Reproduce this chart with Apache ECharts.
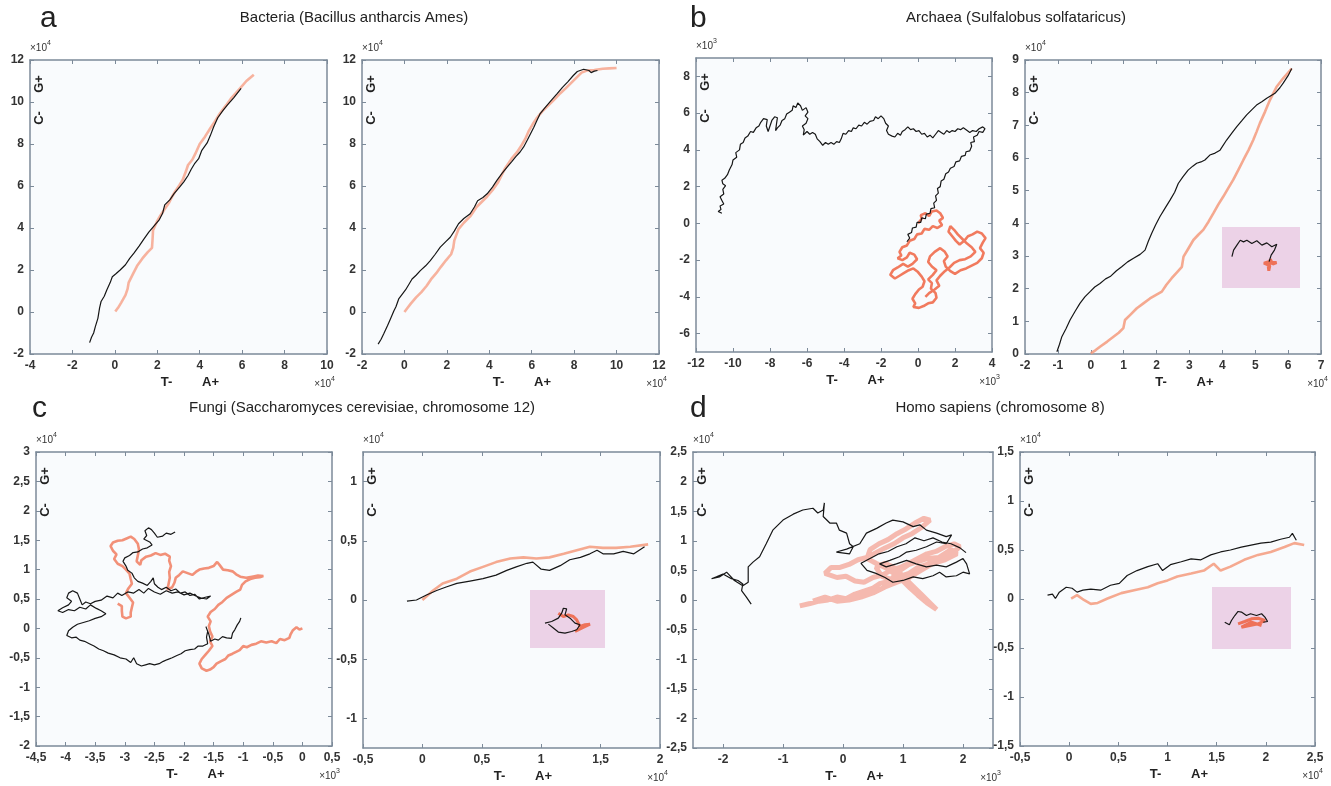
<!DOCTYPE html>
<html>
<head>
<meta charset="utf-8">
<title>DNA walks</title>
<script src="https://cdn.jsdelivr.net/npm/echarts@6/dist/echarts.min.js"></script>
<style>
html, body { margin: 0; padding: 0; background: #fff; }
#chart { width: 1331px; height: 786px; }
</style>
</head>
<body>
<div id="chart"></div>
<script>
// walks in axis units (x10^3 or x10^4 as printed)
const aLeftBlack = [[-1.19,-1.46],[-1.1,-1.2],[-1.0,-1.0],[-0.92,-0.7],[-0.8,-0.3],[-0.72,0.2],[-0.65,0.5],[-0.5,0.75],[-0.38,1.05],[-0.22,1.4],[-0.12,1.68],[0.05,1.82],[0.25,2.0],[0.5,2.25],[0.7,2.55],[0.9,2.8],[1.15,3.15],[1.35,3.45],[1.6,3.8],[1.85,4.1],[2.1,4.4],[2.25,4.7],[2.35,5.1],[2.6,5.35],[2.8,5.65],[3.05,5.95],[3.25,6.2],[3.45,6.5],[3.6,6.8],[3.75,7.05],[3.95,7.3],[4.1,7.7],[4.35,8.05],[4.5,8.4],[4.65,8.8],[4.85,9.25],[5.1,9.6],[5.3,9.85],[5.6,10.2],[5.95,10.65]]
const aLeftRed = [[0.02,0.02],[0.15,0.2],[0.3,0.45],[0.5,0.8],[0.6,1.1],[0.65,1.4],[0.85,1.8],[1.05,2.2],[1.3,2.55],[1.55,2.85],[1.75,3.05],[1.78,3.5],[1.8,3.9],[1.98,4.3],[2.15,4.6],[2.35,4.9],[2.55,5.2],[2.7,5.5],[2.85,5.75],[3.05,6.05],[3.2,6.3],[3.35,6.7],[3.45,7.0],[3.65,7.25],[3.8,7.55],[4.0,8.0],[4.25,8.35],[4.5,8.75],[4.7,9.05],[4.95,9.45],[5.25,9.85],[5.5,10.2],[5.9,10.65],[6.2,11.0],[6.55,11.3]]

const aRightBlack = [[-1.24,-1.53],[-1.1,-1.3],[-0.98,-1.05],[-0.8,-0.65],[-0.66,-0.33],[-0.5,0.05],[-0.4,0.25],[-0.27,0.62],[-0.1,0.85],[0.05,1.05],[0.2,1.3],[0.36,1.57],[0.55,1.75],[0.75,1.97],[1.0,2.2],[1.22,2.45],[1.45,2.75],[1.69,3.09],[1.95,3.35],[2.16,3.56],[2.35,3.85],[2.55,4.2],[2.8,4.45],[3.1,4.68],[3.3,5.0],[3.45,5.3],[3.7,5.45],[3.9,5.63],[4.15,5.95],[4.36,6.27],[4.6,6.6],[4.84,6.9],[5.05,7.15],[5.25,7.4],[5.45,7.62],[5.62,7.86],[5.8,8.2],[5.95,8.5],[6.1,8.8],[6.25,9.13],[6.4,9.45],[6.6,9.7],[6.9,10.05],[7.2,10.4],[7.45,10.7],[7.7,10.96],[7.95,11.25],[8.15,11.45],[8.45,11.56],[8.7,11.5],[8.8,11.4],[8.95,11.47],[9.1,11.5]]
const aRightRed = [[0,0],[0.15,0.2],[0.3,0.4],[0.55,0.7],[0.8,0.95],[1.05,1.25],[1.25,1.55],[1.5,1.85],[1.72,2.15],[1.95,2.45],[2.2,2.75],[2.3,3.05],[2.35,3.4],[2.55,3.95],[2.8,4.25],[3.1,4.55],[3.4,5.0],[3.65,5.25],[3.9,5.5],[4.15,5.8],[4.4,6.15],[4.6,6.55],[4.75,6.85],[5.05,7.3],[5.3,7.6],[5.5,7.9],[5.7,8.25],[5.85,8.6],[6.05,8.95],[6.25,9.25],[6.5,9.55],[6.75,9.8],[7.05,10.1],[7.35,10.42],[7.6,10.65],[7.85,10.9],[8.1,11.15],[8.35,11.4],[8.6,11.5],[8.95,11.52],[9.35,11.58],[9.65,11.6],[10.0,11.62]]

const bLeftBlack = [[-0.6,-1.0],[-0.45,-0.8],[-0.55,-0.6],[-0.35,-0.5],[-0.3,-0.25],[-0.1,-0.2],[-0.05,0.05],[0.15,0.05],[0.2,0.3],[0.4,0.25],[0.45,0.5],[0.65,0.55],[0.7,0.8],[0.9,0.85],[0.85,1.1],[1.0,1.25],[0.95,1.5],[1.1,1.65],[1.05,1.9],[1.2,2.0],[1.25,2.3],[1.4,2.4],[1.5,2.7],[1.65,2.8],[1.75,3.0],[1.95,3.1],[2.05,3.35],[2.25,3.4],[2.35,3.65],[2.55,3.7],[2.6,3.9],[2.8,3.95],[2.9,4.2],[2.85,4.4],[3.05,4.45],[3.0,4.7],[3.2,4.8],[3.3,5.0],[3.5,4.95],[3.62,5.15],[3.5,5.25],[3.3,5.15],[3.15,5.0],[2.95,5.05],[2.8,4.95],[2.6,5.1],[2.45,5.2],[2.3,5.1],[2.15,5.15],[2.0,5.0],[1.85,5.05],[1.7,4.95],[1.55,5.05],[1.4,4.85],[1.25,4.95],[1.1,5.05],[0.95,4.85],[0.8,4.65],[0.65,4.8],[0.5,4.7],[0.35,4.9],[0.2,4.85],[0.05,5.05],[-0.1,5.0],[-0.25,5.15],[-0.4,5.1],[-0.55,5.25],[-0.7,5.1],[-0.85,5.0],[-0.95,4.8],[-1.1,4.9],[-1.25,4.7],[-1.4,4.75],[-1.6,4.85],[-1.7,5.05],[-1.6,5.3],[-1.75,5.45],[-1.85,5.7],[-2.0,5.85],[-2.15,5.7],[-2.3,5.8],[-2.4,5.6],[-2.6,5.55],[-2.75,5.4],[-2.9,5.5],[-3.05,5.3],[-3.2,5.35],[-3.35,5.15],[-3.5,5.2],[-3.6,5.0],[-3.75,5.05],[-3.9,4.85],[-4.05,4.9],[-4.15,4.6],[-4.25,4.4],[-4.4,4.45],[-4.55,4.3],[-4.7,4.4],[-4.85,4.3],[-5.0,4.4],[-5.15,4.25],[-5.3,4.45],[-5.45,4.6],[-5.55,4.85],[-5.7,4.95],[-5.85,4.85],[-6.0,5.0],[-6.2,4.8],[-6.15,5.1],[-6.25,5.3],[-6.05,5.45],[-5.95,5.7],[-6.1,5.85],[-5.95,6.05],[-6.05,6.3],[-6.25,6.15],[-6.35,6.4],[-6.5,6.55],[-6.6,6.3],[-6.75,6.4],[-6.8,6.15],[-6.95,6.05],[-7.1,5.95],[-7.2,5.7],[-7.35,5.6],[-7.45,5.35],[-7.6,5.2],[-7.7,5.05],[-7.65,5.4],[-7.6,5.75],[-7.75,5.8],[-7.9,5.6],[-8.0,5.3],[-8.1,5.0],[-8.2,5.3],[-8.15,5.65],[-8.35,5.7],[-8.5,5.5],[-8.6,5.3],[-8.75,5.2],[-8.9,4.95],[-9.05,5.0],[-9.2,4.75],[-9.35,4.65],[-9.45,4.4],[-9.6,4.3],[-9.65,4.0],[-9.85,3.85],[-9.8,3.6],[-10.0,3.45],[-10.05,3.2],[-10.2,2.9],[-10.3,2.65],[-10.45,2.45],[-10.6,2.35],[-10.55,2.15],[-10.4,2.05],[-10.55,1.85],[-10.5,1.6],[-10.7,1.45],[-10.6,1.25],[-10.5,1.05],[-10.7,0.95],[-10.65,0.75],[-10.8,0.65],[-10.6,0.55]]
const bLeftRed = [[0.0,0.0],[0.2,0.25],[0.15,0.45],[0.4,0.55],[0.6,0.4],[0.75,0.65],[1.0,0.7],[1.2,0.55],[1.35,0.3],[1.15,0.15],[1.3,-0.1],[1.05,-0.25],[0.8,-0.15],[0.6,-0.35],[0.35,-0.3],[0.2,-0.55],[-0.05,-0.6],[-0.2,-0.85],[-0.45,-0.95],[-0.6,-1.2],[-0.85,-1.3],[-1.0,-1.55],[-0.9,-1.75],[-1.1,-1.9],[-0.85,-2.0],[-0.6,-1.85],[-0.45,-1.6],[-0.2,-1.7],[-0.05,-1.95],[-0.3,-2.2],[-0.55,-2.35],[-0.8,-2.2],[-1.1,-2.4],[-1.35,-2.55],[-1.5,-2.8],[-1.25,-3.0],[-1.0,-2.85],[-0.75,-2.7],[-0.5,-2.55],[-0.25,-2.45],[0.0,-2.65],[0.2,-2.9],[0.35,-3.15],[0.25,-3.45],[0.05,-3.6],[-0.15,-3.85],[-0.3,-4.1],[-0.15,-4.35],[-0.25,-4.55],[0.05,-4.6],[0.3,-4.5],[0.55,-4.35],[0.8,-4.3],[1.0,-4.05],[0.95,-3.8],[0.7,-3.55],[0.75,-3.25],[0.55,-3.05],[0.8,-2.8],[1.0,-2.55],[0.75,-2.35],[0.55,-2.1],[0.65,-1.8],[0.9,-1.55],[1.2,-1.35],[1.45,-1.55],[1.6,-1.8],[1.4,-2.05],[1.5,-2.35],[1.75,-2.6],[2.0,-2.75],[2.3,-2.55],[2.6,-2.45],[2.9,-2.3],[3.2,-2.15],[3.45,-1.9],[3.55,-1.6],[3.35,-1.35],[3.5,-1.05],[3.65,-0.8],[3.45,-0.55],[3.2,-0.45],[2.95,-0.6],[2.7,-0.7],[2.5,-0.95],[2.25,-1.15],[2.05,-0.95],[1.85,-0.7],[1.65,-0.45],[1.75,-0.15],[1.95,-0.35],[2.15,-0.6],[2.4,-0.85],[2.65,-1.1],[2.9,-1.3],[3.1,-1.55],[2.85,-1.8],[2.55,-1.95],[2.25,-2.0],[1.95,-2.15],[1.7,-2.4],[1.45,-2.6],[1.2,-2.85],[1.0,-3.1],[1.15,-3.4],[0.9,-3.6],[0.6,-3.8],[0.4,-4.0]]

const bRightBlack = [[-1.03,0.07],[-0.95,0.3],[-0.88,0.53],[-0.75,0.78],[-0.63,1.04],[-0.48,1.3],[-0.33,1.55],[-0.18,1.75],[-0.02,1.91],[0.12,2.05],[0.28,2.16],[0.45,2.3],[0.59,2.37],[0.78,2.55],[0.94,2.67],[1.12,2.82],[1.3,2.93],[1.5,3.05],[1.65,3.18],[1.75,3.45],[1.85,3.69],[1.97,3.95],[2.1,4.2],[2.25,4.45],[2.41,4.71],[2.55,4.95],[2.66,5.22],[2.8,5.42],[2.96,5.63],[3.1,5.75],[3.22,5.84],[3.35,5.88],[3.47,5.94],[3.62,6.09],[3.78,6.15],[3.93,6.24],[4.13,6.55],[4.3,6.78],[4.44,6.96],[4.6,7.15],[4.74,7.32],[4.9,7.48],[5.04,7.62],[5.2,7.72],[5.35,7.83],[5.6,7.98],[5.75,8.15],[5.85,8.29],[6.0,8.52],[6.11,8.74]]
const bRightRed = [[0,0.02],[0.15,0.12],[0.28,0.22],[0.5,0.38],[0.69,0.53],[0.85,0.65],[0.99,0.79],[1.04,1.04],[1.2,1.2],[1.4,1.4],[1.6,1.55],[1.8,1.7],[2.0,1.82],[2.16,1.91],[2.3,2.12],[2.46,2.32],[2.62,2.5],[2.77,2.67],[2.82,2.98],[2.95,3.2],[3.12,3.49],[3.27,3.65],[3.42,3.8],[3.58,4.05],[3.73,4.31],[3.88,4.58],[4.03,4.82],[4.18,5.08],[4.33,5.33],[4.48,5.62],[4.64,5.94],[4.8,6.25],[4.94,6.55],[5.04,6.8],[5.14,7.06],[5.3,7.42],[5.45,7.78],[5.55,7.98],[5.65,8.18],[5.85,8.44],[6.11,8.74]]
const bInsetBlack = [[1.02,3.08],[1.19,3.73],[1.53,4.22],[1.87,4.7],[2.21,4.54],[2.55,4.7],[3.06,4.38],[3.57,4.64],[4.09,4.22],[4.6,4.44],[5.11,4.05],[5.62,4.31],[5.38,3.73],[5.04,3.24],[4.83,2.59]]
const bInsetRed = [[4.83,2.6],[4.75,2.1],[4.8,1.7],[4.9,2.2],[4.3,2.45],[4.7,2.55],[5.1,2.5],[5.6,2.5],[5.2,2.35],[4.95,2.85],[4.9,2.3]]

const cLeftBlack = [[-2.15,1.64],[-2.22,1.6],[-2.3,1.62],[-2.36,1.57],[-2.45,1.55],[-2.5,1.62],[-2.55,1.68],[-2.6,1.71],[-2.66,1.66],[-2.63,1.58],[-2.68,1.52],[-2.58,1.47],[-2.54,1.42],[-2.62,1.37],[-2.7,1.35],[-2.78,1.3],[-2.86,1.29],[-2.92,1.24],[-3.0,1.2],[-3.03,1.14],[-2.98,1.06],[-2.95,0.99],[-2.88,0.94],[-2.84,0.86],[-2.78,0.8],[-2.7,0.77],[-2.62,0.73],[-2.56,0.8],[-2.52,0.86],[-2.5,0.76],[-2.44,0.7],[-2.38,0.66],[-2.3,0.7],[-2.22,0.64],[-2.14,0.67],[-2.06,0.6],[-1.98,0.62],[-1.9,0.56],[-1.82,0.58],[-1.74,0.5],[-1.64,0.53],[-1.55,0.55],[-1.62,0.5],[-1.72,0.52],[-1.8,0.55],[-1.9,0.6],[-2.0,0.57],[-2.1,0.62],[-2.2,0.6],[-2.3,0.64],[-2.4,0.58],[-2.5,0.62],[-2.6,0.68],[-2.68,0.6],[-2.76,0.66],[-2.85,0.6],[-2.95,0.62],[-3.05,0.56],[-3.12,0.6],[-3.2,0.52],[-3.3,0.55],[-3.4,0.48],[-3.5,0.46],[-3.58,0.42],[-3.66,0.45],[-3.72,0.4],[-3.76,0.5],[-3.8,0.6],[-3.88,0.64],[-3.95,0.6],[-3.98,0.52],[-3.9,0.46],[-3.95,0.4],[-4.05,0.35],[-4.13,0.3],[-4.05,0.27],[-3.95,0.32],[-3.85,0.3],[-3.76,0.36],[-3.66,0.33],[-3.58,0.4],[-3.48,0.34],[-3.4,0.3],[-3.32,0.25],[-3.4,0.2],[-3.5,0.17],[-3.6,0.13],[-3.7,0.1],[-3.8,0.07],[-3.88,0.02],[-3.95,-0.04],[-3.98,-0.12],[-3.9,-0.16],[-3.82,-0.15],[-3.76,-0.2],[-3.68,-0.22],[-3.6,-0.26],[-3.52,-0.3],[-3.44,-0.35],[-3.36,-0.38],[-3.28,-0.42],[-3.18,-0.45],[-3.08,-0.5],[-2.98,-0.52],[-2.9,-0.58],[-2.85,-0.5],[-2.8,-0.6],[-2.72,-0.64],[-2.65,-0.62],[-2.58,-0.6],[-2.5,-0.62],[-2.42,-0.6],[-2.35,-0.56],[-2.28,-0.53],[-2.2,-0.5],[-2.12,-0.46],[-2.05,-0.43],[-1.98,-0.38],[-1.9,-0.36],[-1.82,-0.35],[-1.76,-0.3],[-1.68,-0.3],[-1.6,-0.26],[-1.62,-0.15],[-1.6,-0.05],[-1.63,0.03],[-1.58,-0.1],[-1.55,-0.22],[-1.48,-0.18],[-1.42,-0.2],[-1.35,-0.14],[-1.28,-0.16],[-1.2,-0.17],[-1.18,-0.08],[-1.14,-0.02],[-1.1,0.06],[-1.06,0.12],[-1.04,0.18]]
const cLeftRed = [[0,0],[-0.05,-0.02],[-0.1,0.02],[-0.16,-0.03],[-0.2,-0.1],[-0.22,-0.16],[-0.3,-0.2],[-0.38,-0.18],[-0.44,-0.25],[-0.52,-0.22],[-0.61,-0.24],[-0.7,-0.22],[-0.78,-0.26],[-0.86,-0.28],[-0.94,-0.32],[-1.0,-0.3],[-1.06,-0.37],[-1.12,-0.4],[-1.18,-0.43],[-1.25,-0.46],[-1.3,-0.52],[-1.38,-0.56],[-1.45,-0.6],[-1.5,-0.66],[-1.56,-0.7],[-1.62,-0.72],[-1.7,-0.68],[-1.74,-0.6],[-1.7,-0.52],[-1.64,-0.45],[-1.58,-0.38],[-1.52,-0.3],[-1.56,-0.22],[-1.52,-0.14],[-1.56,-0.05],[-1.58,0.04],[-1.55,0.12],[-1.6,0.2],[-1.55,0.28],[-1.48,0.33],[-1.42,0.4],[-1.35,0.45],[-1.28,0.52],[-1.2,0.57],[-1.12,0.62],[-1.05,0.66],[-1.02,0.74],[-0.96,0.8],[-0.88,0.84],[-0.8,0.86],[-0.72,0.87],[-0.66,0.89],[-0.75,0.9],[-0.85,0.88],[-0.95,0.86],[-1.05,0.88],[-1.12,0.92],[-1.18,0.97],[-1.26,0.99],[-1.34,1.0],[-1.4,1.08],[-1.44,1.13],[-1.5,1.06],[-1.58,1.03],[-1.66,1.02],[-1.74,1.0],[-1.8,0.96],[-1.86,0.91],[-1.94,0.94],[-2.02,0.97],[-2.08,0.91],[-2.14,0.86],[-2.16,0.78],[-2.2,0.7],[-2.28,0.66],[-2.26,0.76],[-2.24,0.86],[-2.25,0.96],[-2.22,1.06],[-2.25,1.15],[-2.24,1.22],[-2.32,1.27],[-2.4,1.25],[-2.48,1.28],[-2.56,1.24],[-2.64,1.22],[-2.72,1.16],[-2.74,1.08],[-2.8,1.14],[-2.78,1.24],[-2.76,1.34],[-2.78,1.44],[-2.84,1.52],[-2.9,1.56],[-2.97,1.53],[-3.04,1.5],[-3.12,1.49],[-3.2,1.46],[-3.24,1.4],[-3.2,1.32],[-3.14,1.26],[-3.18,1.18],[-3.12,1.1],[-3.04,1.06],[-2.98,1.0],[-2.92,0.93],[-2.9,0.84],[-2.88,0.76],[-2.94,0.68],[-2.98,0.6],[-2.92,0.52],[-2.86,0.44],[-2.88,0.36],[-2.9,0.27],[-2.9,0.2],[-2.98,0.17],[-3.04,0.2],[-3.05,0.3],[-3.05,0.38],[-3.12,0.42]]

const cRightBlack = [[-0.13,-0.01],[-0.05,0],[0.03,0.04],[0.12,0.08],[0.2,0.11],[0.29,0.14],[0.4,0.16],[0.51,0.18],[0.62,0.21],[0.71,0.25],[0.79,0.28],[0.88,0.31],[0.93,0.32],[1.0,0.26],[1.07,0.25],[1.16,0.29],[1.24,0.34],[1.33,0.36],[1.41,0.39],[1.47,0.42],[1.52,0.39],[1.61,0.39],[1.69,0.41],[1.78,0.39],[1.87,0.45]]
const cRightRed = [[0,0],[0.09,0.08],[0.17,0.14],[0.29,0.18],[0.4,0.24],[0.51,0.28],[0.62,0.32],[0.74,0.35],[0.85,0.36],[0.96,0.35],[1.07,0.36],[1.19,0.39],[1.3,0.42],[1.41,0.45],[1.52,0.44],[1.63,0.44],[1.75,0.45],[1.9,0.47]]
const cInsetBlack = [[1.6,2.57],[2.31,2.74],[3.02,3.09],[3.38,3.6],[3.56,4.11],[3.91,4.05],[3.73,3.43],[4.27,3.09],[4.8,2.57],[5.33,2.4],[4.98,1.89],[4.44,1.71],[3.73,1.54],[3.02,1.65],[2.49,2.06],[1.96,2.47]]
const cInsetRed = [[3.02,3.6],[3.56,3.26],[4.09,3.43],[4.62,3.26],[4.98,2.91],[5.33,2.23],[5.87,2.4],[6.4,2.47],[5.51,2.06],[4.8,1.71]]

const dLeftBlack = [[-1.53,-0.07],[-1.61,0.05],[-1.69,0.16],[-1.67,0.27],[-1.75,0.33],[-1.86,0.36],[-2.0,0.44],[-2.11,0.39],[-2.19,0.36],[-2.06,0.39],[-1.94,0.47],[-1.81,0.33],[-1.67,0.24],[-1.58,0.3],[-1.58,0.56],[-1.5,0.64],[-1.39,0.73],[-1.28,0.95],[-1.17,1.18],[-1.0,1.35],[-0.83,1.45],[-0.67,1.52],[-0.5,1.55],[-0.42,1.47],[-0.33,1.52],[-0.31,1.64],[-0.33,1.41],[-0.22,1.3],[-0.11,1.3],[-0.06,1.18],[0.06,1.13],[0.11,0.95],[0.17,0.9],[0.11,0.78],[-0.11,0.81],[0.06,0.86],[0.28,0.95],[0.39,1.13],[0.56,1.21],[0.72,1.3],[0.83,1.35],[1.0,1.32],[1.17,1.24],[1.28,1.27],[1.39,1.18],[1.56,1.13],[1.72,1.07],[1.81,1.1],[1.72,0.95],[1.56,0.98],[1.39,0.9],[1.22,0.84],[1.06,0.81],[0.94,0.73],[0.78,0.67],[0.61,0.61],[0.72,0.56],[0.89,0.61],[1.06,0.67],[1.22,0.61],[1.39,0.56],[1.56,0.59],[1.72,0.56],[1.89,0.64],[2.0,0.7],[2.06,0.61],[2.11,0.44],[2.0,0.47],[1.89,0.41],[1.72,0.39],[1.61,0.47],[1.5,0.41],[1.33,0.36],[1.17,0.39],[1.0,0.33],[0.83,0.3],[0.7,0.38],[0.55,0.45],[0.4,0.5],[0.3,0.62],[0.45,0.7],[0.6,0.78],[0.75,0.82],[0.9,0.9],[1.05,0.95],[1.2,1.05],[1.35,1.0],[1.5,1.05],[1.65,0.98],[1.8,0.95],[1.95,0.88],[2.05,0.8]]
const dLeftRed = [[-0.72,-0.1],[-0.55,-0.06],[-0.4,-0.02],[-0.25,0.0],[-0.1,0.05],[0.05,0.02],[0.2,0.1],[0.35,0.15],[0.5,0.2],[0.62,0.28],[0.8,0.32],[0.95,0.4],[1.1,0.45],[1.25,0.55],[1.4,0.6],[1.55,0.7],[1.7,0.75],[1.85,0.82],[1.95,0.9],[1.85,0.95],[1.7,0.9],[1.55,0.82],[1.4,0.78],[1.25,0.7],[1.1,0.62],[0.95,0.55],[0.8,0.5],[0.65,0.42],[0.5,0.38],[0.35,0.3],[0.2,0.32],[0.05,0.4],[-0.1,0.38],[-0.3,0.45],[-0.2,0.55],[-0.05,0.55],[0.1,0.6],[0.25,0.68],[0.4,0.72],[0.55,0.8],[0.7,0.88],[0.85,0.95],[1.0,1.05],[1.15,1.12],[1.3,1.22],[1.45,1.35],[1.35,1.38],[1.2,1.3],[1.05,1.2],[0.9,1.12],[0.75,1.02],[0.6,0.95],[0.45,0.85],[0.4,0.7],[0.55,0.62],[0.7,0.55],[0.85,0.45],[1.0,0.32],[1.12,0.2],[1.25,0.08],[1.4,-0.05],[1.56,-0.16],[1.45,-0.05],[1.3,0.1],[1.15,0.25],[1.0,0.4],[0.85,0.55],[0.7,0.62],[0.55,0.55],[0.65,0.4],[0.8,0.35],[0.95,0.5],[1.1,0.6],[1.25,0.65],[1.4,0.7],[1.6,0.72],[1.8,0.85],[1.9,0.78],[1.7,0.68],[1.5,0.62],[1.3,0.5],[1.1,0.38],[0.9,0.3],[0.7,0.22],[0.5,0.12],[0.3,0.05],[0.1,0.0],[-0.1,-0.02],[-0.3,0.05],[-0.5,-0.02]]

const dRightBlack = [[-0.22,0.04],[-0.17,0.05],[-0.14,0.005],[-0.1,0.07],[-0.03,0.12],[0.03,0.11],[0.08,0.07],[0.14,0.09],[0.22,0.1],[0.32,0.09],[0.42,0.14],[0.51,0.16],[0.59,0.24],[0.69,0.29],[0.8,0.33],[0.9,0.36],[0.95,0.29],[1.03,0.35],[1.14,0.38],[1.24,0.41],[1.34,0.4],[1.44,0.45],[1.54,0.48],[1.64,0.5],[1.75,0.53],[1.85,0.55],[1.95,0.57],[2.05,0.58],[2.15,0.61],[2.24,0.63],[2.27,0.67],[2.31,0.6]]
const dRightRed = [[0.02,0.005],[0.08,0.04],[0.15,-0.01],[0.22,-0.05],[0.29,-0.04],[0.39,0.005],[0.53,0.06],[0.66,0.09],[0.8,0.12],[0.9,0.16],[1.0,0.19],[1.1,0.23],[1.24,0.26],[1.37,0.29],[1.47,0.36],[1.54,0.29],[1.64,0.33],[1.78,0.4],[1.92,0.45],[2.05,0.48],[2.19,0.53],[2.29,0.57],[2.39,0.55]]
const dInsetBlack = [[1.29,2.59],[1.76,2.34],[1.97,2.76],[2.31,3.24],[2.64,3.63],[2.98,3.57],[3.49,3.24],[3.9,3.41],[4.51,3.24],[5.02,3.41],[5.36,3.08],[5.63,2.66],[5.19,2.59]]
const dInsetRed = [[2.64,2.43],[3.32,2.66],[4.0,2.92],[4.68,2.98],[5.36,2.76],[4.68,2.43],[3.83,2.27],[2.98,2.11],[4.0,2.6],[5.02,2.27]]

// axis ranges: [min, max, step]
const panels = [
  { box: [30, 60, 297, 294], x: [-4, 10, 2], y: [-2, 12, 2], ex: '4', ey: '4', black: aLeftBlack, red: aLeftRed, redColor: '#f6a086', redOp: 0.8, redW: 2.6 },
  { box: [362, 60, 297, 294], x: [-2, 12, 2], y: [-2, 12, 2], ex: '4', ey: '4', black: aRightBlack, red: aRightRed, redColor: '#f6a086', redOp: 0.8, redW: 2.6 },
  { box: [696, 58, 296, 294], x: [-12, 4, 2], y: [-7, 9], yTicks: [-6, -4, -2, 0, 2, 4, 6, 8], ex: '3', ey: '3', black: bLeftBlack, red: bLeftRed, redColor: '#ef5a36', redOp: 0.8, redW: 2.6 },
  { box: [1025, 60, 296, 294], x: [-2, 7, 1], y: [0, 9, 1], ex: '4', ey: '4', black: bRightBlack, red: bRightRed, redColor: '#f49a7c', redOp: 0.85, redW: 2.6 },
  { box: [36, 452, 296, 294], x: [-4.5, 0.5, 0.5], y: [-2, 3, 0.5], ex: '3', ey: '4', black: cLeftBlack, red: cLeftRed, redColor: '#f0623e', redOp: 0.7, redW: 2.6 },
  { box: [363, 452, 297, 296], x: [-0.5, 2, 0.5], y: [-1.25, 1.25], yTicks: [-1, -0.5, 0, 0.5, 1], ex: '4', ey: '4', black: cRightBlack, red: cRightRed, redColor: '#f49a7c', redOp: 0.85, redW: 2.6 },
  { box: [693, 452, 300, 296], x: [-2.5, 2.5], xTicks: [-2, -1, 0, 1, 2], y: [-2.5, 2.5, 0.5], ex: '3', ey: '4', black: dLeftBlack, red: dLeftRed, redColor: '#ef5030', redOp: 0.38, redW: 5 },
  { box: [1020, 452, 295, 294], x: [-0.5, 2.5, 0.5], y: [-1.5, 1.5, 0.5], ex: '4', ey: '4', black: dRightBlack, red: dRightRed, redColor: '#f49a7c', redOp: 0.85, redW: 2.6 },
]

const insets = [
  { box: [1222, 227, 78, 61], black: bInsetBlack, red: bInsetRed },
  { box: [530, 590, 75, 58], black: cInsetBlack, red: cInsetRed },
  { box: [1212, 587, 79, 62], black: dInsetBlack, red: dInsetRed },
]

const titles = [
  { letter: 'a', lx: 40, ly: 4, text: 'Bacteria (Bacillus antharcis Ames)', tx: 354, ty: 10 },
  { letter: 'b', lx: 690, ly: 4, text: 'Archaea (Sulfalobus solfataricus)', tx: 1016, ty: 10 },
  { letter: 'c', lx: 32, ly: 394, text: 'Fungi (Saccharomyces cerevisiae, chromosome 12)', tx: 362, ty: 400 },
  { letter: 'd', lx: 690, ly: 394, text: 'Homo sapiens (chromosome 8)', tx: 1000, ty: 400 },
]

const frameColor = '#7c8a99'
const fontFamily = 'Liberation Sans, Arial, sans-serif'

function fmt(v) {
  return String(+(+v).toFixed(2)).replace('.', ',')
}

function makeAxis(range, ticks, pos, gridIndex, showLabel) {
  const ax = {
    type: 'value',
    gridIndex,
    position: pos,
    min: range[0],
    max: range[1],
    splitLine: { show: false },
    axisLine: { show: true, onZero: false, lineStyle: { color: frameColor, width: 1.5 } },
    axisTick: { show: true, inside: true, length: 4, lineStyle: { color: frameColor, width: 1 } },
    axisLabel: {
      show: showLabel,
      formatter: fmt,
      color: '#333',
      fontSize: 12,
      fontWeight: 'bold',
      fontFamily,
      margin: 6,
      showMinLabel: true,
      showMaxLabel: true,
    },
  }
  if (ticks) {
    ax.axisTick.customValues = ticks
    ax.axisLabel.customValues = ticks
  } else {
    ax.interval = range[2]
  }
  return ax
}

const grid = []
const xAxis = []
const yAxis = []
const series = []
const graphic = []

const sup = (e, align) => ({
  text: '{a|×10}{b|' + e + '}',
  align: align,
  rich: {
    a: { fontSize: 10, fontFamily, fill: '#333', verticalAlign: 'bottom' },
    b: { fontSize: 7, fontFamily, fill: '#333', verticalAlign: 'top', padding: [0, 0, 6, 0] },
  },
})

panels.forEach((p, i) => {
  const [l, t, w, h] = p.box
  grid.push({ left: l, top: t, width: w, height: h, show: true, backgroundColor: '#f9fbfd', borderWidth: 0 })
  xAxis.push(makeAxis(p.x, p.xTicks, 'bottom', i, true))
  xAxis.push(makeAxis(p.x, p.xTicks, 'top', i, false))
  yAxis.push(makeAxis(p.y, p.yTicks, 'left', i, true))
  yAxis.push(makeAxis(p.y, p.yTicks, 'right', i, false))

  series.push({
    type: 'line', xAxisIndex: i * 2, yAxisIndex: i * 2, data: p.red, symbol: 'none',
    lineStyle: { color: p.redColor, width: p.redW, opacity: p.redOp }, z: 2,
  })
  series.push({
    type: 'line', xAxisIndex: i * 2, yAxisIndex: i * 2, data: p.black, symbol: 'none',
    lineStyle: { color: '#161616', width: 1.2 }, z: 3,
  })

  // exponent labels, T- A+ and the rotated G+ C- markers
  graphic.push({ type: 'text', x: l, y: t - 20, style: sup(p.ey, 'left') })
  graphic.push({ type: 'text', x: Math.min(l + w + 8, 1328), y: t + h + 22, style: sup(p.ex, 'right') })
  const cx = l + w / 2
  const bold = { font: 'bold 13px ' + fontFamily, fill: '#222', textAlign: 'center' }
  graphic.push({ type: 'text', x: cx - 12, y: t + h + 22, style: Object.assign({ text: 'T-' }, bold) })
  graphic.push({ type: 'text', x: cx + 32, y: t + h + 22, style: Object.assign({ text: 'A+' }, bold) })
  graphic.push({ type: 'text', x: l + 9, y: t + 24, rotation: Math.PI / 2,
    style: { text: 'G+', font: 'bold 13px ' + fontFamily, fill: '#222', textAlign: 'center', textVerticalAlign: 'middle' } })
  graphic.push({ type: 'text', x: l + 9, y: t + 58, rotation: Math.PI / 2,
    style: { text: 'C-', font: 'bold 13px ' + fontFamily, fill: '#222', textAlign: 'center', textVerticalAlign: 'middle' } })
})

insets.forEach((s, k) => {
  const gi = panels.length + k
  const [l, t, w, h] = s.box
  grid.push({ left: l, top: t, width: w, height: h, show: true, backgroundColor: '#ecd2e7', borderWidth: 0, z: 3 })
  xAxis.push({ type: 'value', gridIndex: gi, min: 0, max: 8, show: false })
  yAxis.push({ type: 'value', gridIndex: gi, min: 0, max: 6, show: false })
  const ai = xAxis.length - 1
  series.push({
    type: 'line', xAxisIndex: ai, yAxisIndex: ai, data: s.red, symbol: 'none', z: 4,
    lineStyle: { color: '#ef5a36', width: 3, opacity: 0.8 },
  })
  series.push({
    type: 'line', xAxisIndex: ai, yAxisIndex: ai, data: s.black, symbol: 'none', z: 5,
    lineStyle: { color: '#161616', width: 1.2 },
  })
})

titles.forEach((tt) => {
  graphic.push({ type: 'text', x: tt.lx, y: tt.ly, style: { text: tt.letter, font: '30px ' + fontFamily, fill: '#222' } })
  graphic.push({ type: 'text', x: tt.tx, y: tt.ty, style: { text: tt.text, font: '15px ' + fontFamily, fill: '#222', textAlign: 'center' } })
})

const chart = echarts.init(document.getElementById('chart'))
chart.setOption({
  animation: false,
  backgroundColor: '#fff',
  grid,
  xAxis,
  yAxis,
  series,
  graphic,
})
</script>
</body>
</html>
